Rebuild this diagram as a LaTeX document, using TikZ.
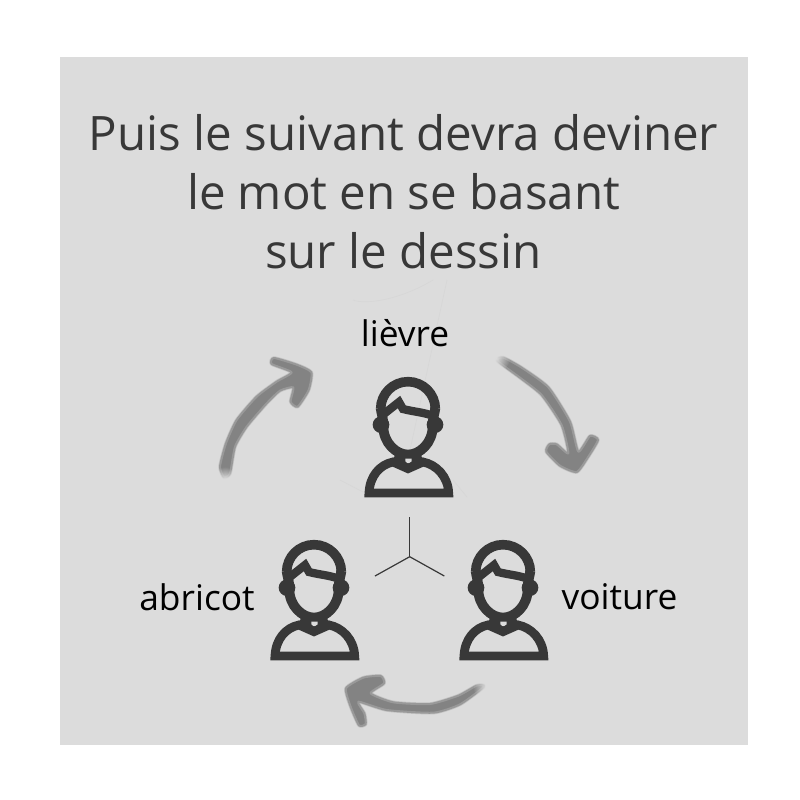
\documentclass[tikz,border=0pt]{standalone}
\usetikzlibrary{fadings}
\usepackage{fontspec}
\setmainfont{Open Sans}
\definecolor{panel}{HTML}{DCDCDC}
\definecolor{ghost}{HTML}{D7D7D7}
\definecolor{ink}{HTML}{383838}
\definecolor{brush}{HTML}{838383}
\definecolor{brushsoft}{HTML}{999999}
\definecolor{brushhalo}{HTML}{C2C2C2}
\tikzfading[name=softdisc,inner color=transparent!0,outer color=transparent!100]
\tikzset{
  titletext/.style={text=ink,font=\fontsize{35.6}{44.25}\selectfont,align=center,inner sep=0pt},
  nametext/.style={text=black,font=\fontsize{26.5}{30}\selectfont,inner sep=0pt},
  halo/.style={draw=brushhalo,line width=2.6pt,line join=round},
  brushstroke/.style={fill=brush,draw=brushsoft,line width=1.5pt,line join=round},
  tailfade/.style={fill=panel,path fading=softdisc},
  axisline/.style={draw=ink,line width=0.9pt},
  ghostline/.style={draw=ghost,line width=0.5pt},
  person/.pic={
    \begin{scope}[xscale=1/3,yscale=1/3,shift={(-205,-292)}]
      \draw[ink,line width=7.2pt,line cap=butt] (123,388) arc[start angle=180,end angle=360,radius=82];
      \fill[ink] (124,435) circle[radius=25];
      \fill[ink] (286,435) circle[radius=25];
      \draw[ink,line width=7.4pt] (123,385) .. controls (125,400) and (131,415) .. (131,440) .. controls (131,490) and (170,525) .. (205,525) .. controls (240,525) and (279,490) .. (279,440) .. controls (279,415) and (285,400) .. (287,385);
      \draw[ink,line width=6.2pt,miter limit=10] (130,405) -- (178,367) -- (190,388) .. controls (220,396) and (255,398) .. (284,410);
      \fill[ink] (165,525) -- (245,525) -- (250,555) -- (205,575) -- (160,555) -- cycle;
      \fill[panel] (197,537) -- (216,537) -- (216,545) -- (209,550) -- (203,550) -- (197,545) -- cycle;
      \draw[ink,line width=6.6pt,line join=miter] (88,640) .. controls (90,590) and (120,555) .. (160,547) -- (205,567) -- (250,547) .. controls (290,555) and (325,590) .. (327,640) -- cycle;
    \end{scope}
  }
}
\newcommand{\brushshape}[1]{\draw[halo] plot[smooth cycle,tension=0.35] coordinates {#1};\draw[brushstroke] plot[smooth cycle,tension=0.35] coordinates {#1};}
\begin{document}
\begin{tikzpicture}[x=0.75pt,y=-0.75pt]
\useasboundingbox (0,0) rectangle (800,800);
\fill[white] (0,0) rectangle (800,800);
\fill[panel] (60,57) rectangle (748,745);

\draw[ghostline] (353,300) .. controls (365,305) and (400,300) .. (433,280);
\draw[ghostline] (447,280) -- (410,450);
\draw[ghostline] (340,480) -- (363,492);
\draw[ghostline] (453,480) -- (467,497);

\node[titletext] (title) at (403.5,192) {Puis le suivant devra deviner\\le mot en se basant\\sur le dessin};

\node[nametext] (lievre) at (405,333) {lièvre};
\node[nametext] (abricot) at (197,597) {abricot};
\node[nametext] (voiture) at (619.5,597) {voiture};

\pic (top) at (408,377) {person};
\pic (left) at (314,540) {person};
\pic (right) at (503,540) {person};

\coordinate (hub) at (409.7,556.7);
\coordinate (armtop) at (409.7,517.3);
\coordinate (armleft) at (375,576);
\coordinate (armright) at (444.3,576);
\draw[axisline] (hub) -- (armtop);
\draw[axisline] (hub) -- (armleft);
\draw[axisline] (hub) -- (armright);

% left brush arrow
\begin{scope}[shift={(200,340)},xscale=1/3,yscale=1/3]
\brushshape{(72,412) (60,380) (78,310) (110,240) (170,170) (230,125) (275,97) (215,72) (222,54) (290,74) (334,97) (326,150) (293,200) (272,185) (280,142) (240,152) (200,190) (140,260) (105,320) (90,400)}
\fill[tailfade] (75,418) circle[radius=38];
\end{scope}
% right brush arrow
\begin{scope}[shift={(490,345)},xscale=1/3,yscale=1/3]
\brushshape{(22,47) (40,38) (95,68) (175,127) (240,230) (265,320) (300,273) (324,285) (293,338) (260,381) (210,362) (169,320) (178,298) (200,298) (235,325) (215,240) (155,150) (90,98)}
\fill[tailfade] (18,40) circle[radius=42];
\end{scope}
% bottom brush arrow
\begin{scope}[shift={(330,670)},xscale=1/3,yscale=1/3]
\brushshape{(462,50) (440,47) (385,77) (300,102) (190,97) (122,70) (162,40) (152,18) (100,23) (48,55) (62,110) (87,166) (107,162) (103,130) (85,95) (170,120) (310,128) (390,103)}
\fill[tailfade] (470,50) circle[radius=42];
\end{scope}
\end{tikzpicture}
\end{document}
